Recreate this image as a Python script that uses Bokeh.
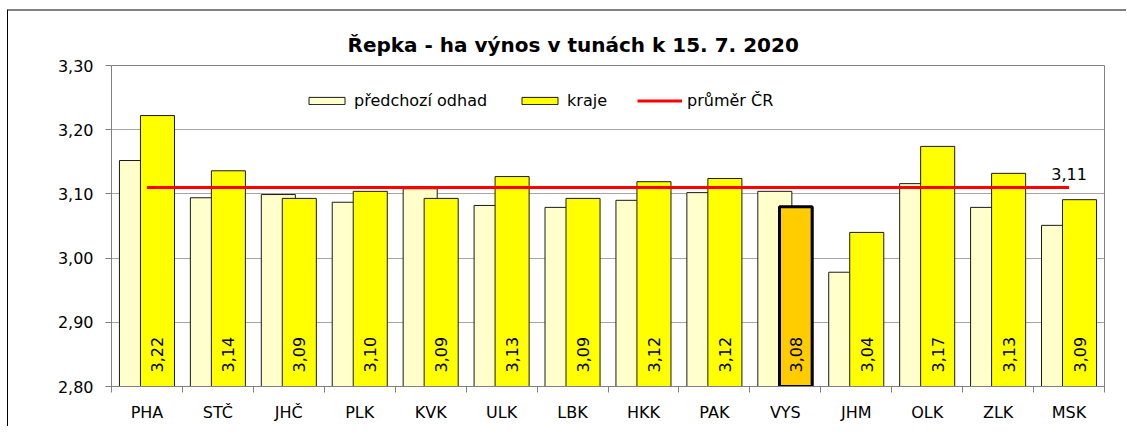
import numpy as np
from bokeh.plotting import figure
from bokeh.models import Range1d, FixedTicker, ColumnDataSource, Legend, LegendItem
from bokeh.embed import file_html
from bokeh.resources import INLINE
from bokeh.core.properties import value

categories = ["PHA", "STČ", "JHČ", "PLK", "KVK", "ULK", "LBK", "HKK", "PAK", "VYS", "JHM", "OLK", "ZLK", "MSK"]
previous = [3.152, 3.094, 3.099, 3.087, 3.108, 3.082, 3.079, 3.090, 3.102, 3.104, 2.978, 3.116, 3.079, 3.051]
regions = [3.222, 3.136, 3.093, 3.104, 3.093, 3.127, 3.093, 3.119, 3.124, 3.080, 3.040, 3.174, 3.132, 3.091]
average = 3.11
highlight = "VYS"
y_ticks = [2.80, 2.90, 3.00, 3.10, 3.20, 3.30]
y_tick_labels = ["2,80", "2,90", "3,00", "3,10", "3,20", "3,30"]
title_text = "Řepka - ha výnos v tunách k 15. 7. 2020"
legend_labels = ["předchozí odhad", "kraje", "průměr ČR"]

FONT = "DejaVu Sans"
n = len(categories)
idx = np.arange(n)
off = 0.148
bw = 0.48

def fmt(v):
    return f"{v:.2f}".replace(".", ",")

p = figure(width=1119, height=417, output_backend="svg", toolbar_location=None,
           x_range=Range1d(-0.5, n - 0.5), y_range=Range1d(y_ticks[0], y_ticks[-1]),
           min_border_left=103, min_border_right=23, min_border_top=54, min_border_bottom=42)
p.styles = {"margin-left": "7px", "margin-top": "9px",
            "border-top": "2px solid #808080", "border-left": "1px solid #000000"}
p.background_fill_color = "white"
p.outline_line_color = "#808080"
p.outline_line_width = 1

src = ColumnDataSource(dict(x=idx, xp=idx - off, xr=idx + off, prev=previous, reg=regions,
                            lab=[fmt(v) for v in regions]))
hi = [i for i, c in enumerate(categories) if c == highlight]
src_hi = ColumnDataSource(dict(xr=[i + off for i in hi], reg=[regions[i] for i in hi]))

r_prev = p.vbar(x="xp", top="prev", bottom=y_ticks[0], width=bw, source=src,
                fill_color="#FFFFCC", line_color="#1a1a1a", line_width=1)
r_reg = p.vbar(x="xr", top="reg", bottom=y_ticks[0], width=bw, source=src,
               fill_color="#FFFF00", line_color="#1a1a1a", line_width=1)
p.vbar(x="xr", top="reg", bottom=y_ticks[0], width=bw - 0.02, source=src_hi,
       fill_color="#FFCC00", line_color="#000000", line_width=3)

r_avg = p.line(x=[idx[0], idx[-1]], y=[average, average], line_color="#FF0000", line_width=3)
p.text(x=[idx[-1]], y=[average], text=[fmt(average)], text_align="center", text_baseline="alphabetic",
       y_offset=-13, text_font=value(FONT), text_font_size="16px", text_color="black")

p.text(x="xr", y=y_ticks[0], text="lab", source=src, angle=np.pi / 2, text_align="left",
       text_baseline="middle", y_offset=-14, text_font=value(FONT), text_font_size="16px",
       text_color="black")

# axes
p.xgrid.grid_line_color = None
p.ygrid.grid_line_color = "#A6A6A6"
p.ygrid.grid_line_width = 1

p.yaxis.ticker = FixedTicker(ticks=y_ticks)
p.yaxis.major_label_overrides = {t: l for t, l in zip(y_ticks, y_tick_labels)}
p.yaxis.axis_line_color = "#808080"
p.yaxis.major_tick_line_color = "#808080"
p.yaxis.major_tick_out = 6
p.yaxis.major_tick_in = 0
p.yaxis.minor_tick_line_color = None
p.yaxis.major_label_standoff = 12
p.yaxis.major_label_text_font = FONT
p.yaxis.major_label_text_font_size = "16px"
p.yaxis.major_label_text_color = "black"

p.xaxis.ticker = FixedTicker(ticks=list(idx), minor_ticks=[i - 0.5 for i in range(n + 1)])
p.xaxis.major_label_overrides = {int(i): c for i, c in zip(idx, categories)}
p.xaxis.axis_line_color = "#808080"
p.xaxis.major_tick_line_color = None
p.xaxis.major_tick_out = 0
p.xaxis.major_tick_in = 0
p.xaxis.minor_tick_line_color = "#808080"
p.xaxis.minor_tick_out = 6
p.xaxis.minor_tick_in = 0
p.xaxis.major_label_standoff = 10
p.xaxis.major_label_text_font = FONT
p.xaxis.major_label_text_font_size = "16px"
p.xaxis.major_label_text_color = "black"

p.title.text = title_text
p.title.text_font = FONT
p.title.text_font_size = "20px"
p.title.text_font_style = "bold"
p.title.text_color = "black"
p.title.align = "left"
p.title.offset = 236
p.title.standoff = 18

legend = Legend(items=[LegendItem(label=legend_labels[0], renderers=[r_prev]),
                       LegendItem(label=legend_labels[1], renderers=[r_reg]),
                       LegendItem(label=legend_labels[2], renderers=[r_avg])],
                orientation="horizontal", location=(193, 276))
legend.glyph_width = 45
legend.glyph_height = 9
legend.label_height = 16
legend.label_standoff = 5
legend.spacing = 30
legend.padding = 0
legend.margin = 0
legend.border_line_color = None
legend.background_fill_alpha = 0
legend.label_text_font = FONT
legend.label_text_font_size = "16px"
legend.label_text_color = "black"
p.add_layout(legend, "center")

open("out.html", "w").write(file_html(p, INLINE))
